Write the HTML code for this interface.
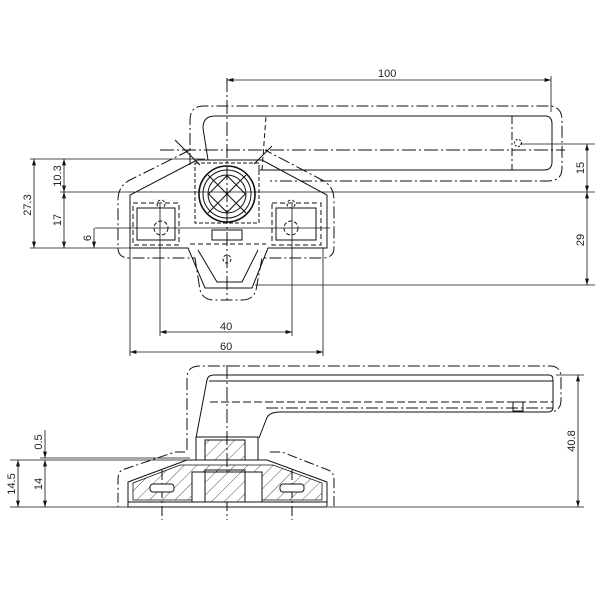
<!DOCTYPE html>
<html><head><meta charset="utf-8"><style>
html,body{margin:0;padding:0;background:#fff;}
svg{display:block}
text{font-family:"Liberation Sans",sans-serif;font-size:11px;fill:#222}
</style></head><body>
<svg width="600" height="600" viewBox="0 0 600 600" xmlns="http://www.w3.org/2000/svg">
<defs>
<marker id="a" markerWidth="8" markerHeight="6" refX="8" refY="3" orient="auto-start-reverse"><path d="M0,0.5 L8,3 L0,5.5 Z" fill="#111"/></marker>
<pattern id="h" width="9" height="9" patternUnits="userSpaceOnUse" patternTransform="rotate(45)"><line x1="0" y1="0" x2="0" y2="9" stroke="#111" stroke-width="0.7"/></pattern>
</defs>
<g fill="none" stroke="#111" stroke-width="1">
<!-- ===== TOP VIEW ===== -->
<line x1="227" y1="78" x2="227" y2="300" stroke-dasharray="14,3,2,3"/>
<line x1="160" y1="150" x2="565" y2="150" stroke-dasharray="14,3,2,3"/>
<line x1="95" y1="228" x2="330" y2="228" stroke-width="0.8"/>
<path d="M190,165 L190,120 Q190,106 204,106 L548,106 Q562,106 562,120 L562,168 Q562,181 548,181 L270,181" stroke-dasharray="12,3,2,3"/>
<path d="M203,128 Q203,116 215,116 L545,116 Q552,116 552,124 L552,162 Q552,170 544,170 L258,170"/>
<path d="M262,170 L266,116" stroke-dasharray="5,3"/>
<line x1="203" y1="128" x2="208" y2="160"/>
<line x1="512" y1="116" x2="512" y2="170" stroke-dasharray="8,3,2,3"/>
<circle cx="518" cy="143" r="3.5" stroke-dasharray="2,1.5"/>
<line x1="227" y1="80" x2="551" y2="80" marker-start="url(#a)" marker-end="url(#a)" stroke-width="0.8"/>
<line x1="551" y1="76" x2="551" y2="112" stroke-width="0.8"/>
<path d="M190,150 L130,180 Q118,186 118,200 L118,248 Q118,258 130,258 L195,258 L200,290 Q203,300 214,300 L242,300 Q253,300 256,290 L262,258 L322,258 Q334,258 334,248 L334,200 Q334,186 322,180 L265,150" stroke-dasharray="12,3,2,3"/>
<path d="M197,160 L262,160 L327,195 L327,248 L268,248 L252,288 L205,288 L188,248 L130,248 L130,195 Z"/>
<path d="M198,250 L217,282 L242,282 L258,250"/>
<line x1="190" y1="244" x2="266" y2="244" stroke-dasharray="5,3"/>
<rect x="133" y="203" width="46" height="42" stroke-dasharray="5,3"/>
<rect x="137" y="208" width="38" height="32"/>
<rect x="272" y="203" width="49" height="42" stroke-dasharray="5,3"/>
<rect x="276" y="208" width="40" height="32"/>
<circle cx="161" cy="228" r="7" stroke-dasharray="4,2"/>
<circle cx="291" cy="228" r="7" stroke-dasharray="4,2"/>
<circle cx="161" cy="204" r="4" stroke-dasharray="3,2"/>
<circle cx="291" cy="204" r="4" stroke-dasharray="3,2"/>
<circle cx="227" cy="259" r="4" stroke-dasharray="3,2"/>
<rect x="212" y="230" width="30" height="10"/>
<rect x="195" y="163" width="64" height="60" stroke-dasharray="4,2"/>
<circle cx="227" cy="194" r="28" stroke-width="1.6"/>
<circle cx="227" cy="194" r="24"/>
<circle cx="227" cy="194" r="19"/>
<rect x="214" y="181" width="26" height="26" transform="rotate(45 227 194)"/>
<line x1="208" y1="175" x2="246" y2="213"/><line x1="246" y1="175" x2="208" y2="213"/>
<line x1="175" y1="140" x2="200" y2="165"/><line x1="272" y1="146" x2="254" y2="164"/>
<line x1="30" y1="159" x2="205" y2="159" stroke-width="0.8"/>
<line x1="60" y1="192" x2="595" y2="192" stroke-width="0.8"/>
<line x1="30" y1="248" x2="130" y2="248" stroke-width="0.8"/>
<line x1="520" y1="144" x2="595" y2="144" stroke-width="0.8"/>
<line x1="255" y1="285" x2="595" y2="285" stroke-width="0.8"/>
<line x1="160" y1="204" x2="160" y2="336" stroke-width="0.8"/>
<line x1="292" y1="204" x2="292" y2="336" stroke-width="0.8"/>
<line x1="130" y1="248" x2="130" y2="356" stroke-width="0.8"/>
<line x1="323" y1="248" x2="323" y2="356" stroke-width="0.8"/>
<line x1="34" y1="159" x2="34" y2="248" marker-start="url(#a)" marker-end="url(#a)" stroke-width="0.8"/>
<line x1="64" y1="159" x2="64" y2="192" marker-start="url(#a)" marker-end="url(#a)" stroke-width="0.8"/>
<line x1="64" y1="192" x2="64" y2="248" marker-start="url(#a)" marker-end="url(#a)" stroke-width="0.8"/>
<line x1="94" y1="228" x2="94" y2="248" marker-end="url(#a)" stroke-width="0.8"/>
<line x1="587" y1="144" x2="587" y2="192" marker-start="url(#a)" marker-end="url(#a)" stroke-width="0.8"/>
<line x1="587" y1="192" x2="587" y2="285" marker-start="url(#a)" marker-end="url(#a)" stroke-width="0.8"/>
<line x1="160" y1="332" x2="292" y2="332" marker-start="url(#a)" marker-end="url(#a)" stroke-width="0.8"/>
<line x1="130" y1="352" x2="323" y2="352" marker-start="url(#a)" marker-end="url(#a)" stroke-width="0.8"/>

<!-- ===== SIDE VIEW ===== -->
<line x1="227" y1="365" x2="227" y2="520" stroke-dasharray="14,3,2,3"/>
<line x1="162" y1="470" x2="162" y2="520" stroke-dasharray="10,3,2,3"/>
<line x1="292" y1="470" x2="292" y2="520" stroke-dasharray="10,3,2,3"/>
<path d="M187,450 L187,378 Q187,366 200,366 L550,366 Q561,366 561,378 L561,400 Q561,410 552,412" stroke-dasharray="12,3,2,3"/>
<path d="M185,452 L175,452 L122,470 Q118,472 118,480 L118,507" stroke-dasharray="10,3,2,3"/>
<path d="M270,452 L282,452 L328,470 Q334,472 334,480 L334,507" stroke-dasharray="10,3,2,3"/>
<path d="M196,438 L207,380 Q208,375 214,375 L549,375 Q553,375 553,380 L553,407 Q553,412 548,412 L280,412 Q268,412 266,420 L259,438"/>
<line x1="209" y1="381" x2="553" y2="381"/>
<line x1="210" y1="402" x2="553" y2="402" stroke-dasharray="8,3"/>
<line x1="266" y1="408" x2="553" y2="408" stroke-dasharray="12,3,2,3"/>
<rect x="513" y="402" width="10" height="9"/>
<rect x="196" y="437" width="62" height="23"/>
<rect x="205" y="440" width="40" height="20" fill="url(#h)"/>
<path d="M187,460 L267,460 L327,482 L327,507 L128,507 L128,482 Z"/>
<path d="M133,483 L180,465 L273,465 L322,483 L322,500 L133,500 Z" fill="url(#h)" stroke-width="0.8"/>
<rect x="192" y="472" width="70" height="30" fill="#fff"/>
<rect x="205" y="470" width="40" height="32" fill="url(#h)"/>
<rect x="150" y="484" width="24" height="8" rx="3" fill="#fff"/>
<rect x="280" y="484" width="24" height="8" rx="3" fill="#fff"/>
<line x1="128" y1="502" x2="327" y2="502"/>
<line x1="10" y1="460" x2="187" y2="460" stroke-width="0.8"/>
<line x1="40" y1="458" x2="190" y2="458" stroke-width="0.8"/>
<line x1="10" y1="507" x2="128" y2="507" stroke-width="0.8"/>
<line x1="18" y1="460" x2="18" y2="507" marker-start="url(#a)" marker-end="url(#a)" stroke-width="0.8"/>
<line x1="45" y1="460" x2="45" y2="507" marker-start="url(#a)" marker-end="url(#a)" stroke-width="0.8"/>
<line x1="45" y1="430" x2="45" y2="458" marker-end="url(#a)" stroke-width="0.8"/>
<line x1="556" y1="375" x2="584" y2="375" stroke-width="0.8"/>
<line x1="328" y1="507" x2="584" y2="507" stroke-width="0.8"/>
<line x1="578" y1="375" x2="578" y2="507" marker-start="url(#a)" marker-end="url(#a)" stroke-width="0.8"/>
</g>
<text x="378" y="77">100</text>
<text transform="translate(31,205) rotate(-90)" text-anchor="middle">27.3</text>
<text transform="translate(61,176) rotate(-90)" text-anchor="middle">10.3</text>
<text transform="translate(61,220) rotate(-90)" text-anchor="middle">17</text>
<text transform="translate(91,238) rotate(-90)" text-anchor="middle">6</text>
<text transform="translate(584,168) rotate(-90)" text-anchor="middle">15</text>
<text transform="translate(584,240) rotate(-90)" text-anchor="middle">29</text>
<text x="220" y="330">40</text>
<text x="220" y="350">60</text>
<text transform="translate(15,484) rotate(-90)" text-anchor="middle">14.5</text>
<text transform="translate(42,484) rotate(-90)" text-anchor="middle">14</text>
<text transform="translate(42,442) rotate(-90)" text-anchor="middle">0.5</text>
<text transform="translate(575,441) rotate(-90)" text-anchor="middle">40.8</text>
</svg>
</body></html>
